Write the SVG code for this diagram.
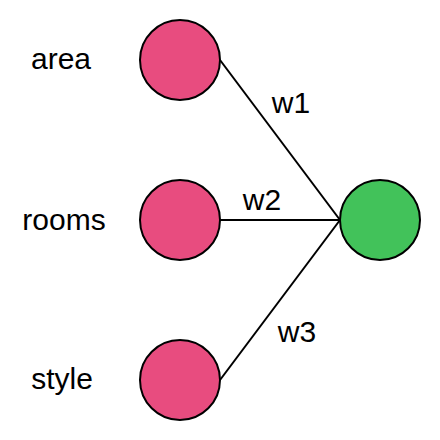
<svg xmlns="http://www.w3.org/2000/svg" width="440" height="440" viewBox="0 0 440 440">
<style>
.in{fill:#e84c7f;stroke:#000;stroke-width:2}
.out{fill:#42c25a;stroke:#000;stroke-width:2}
.lbl{font-family:"Liberation Sans",Arial,sans-serif;font-size:30px;fill:#000}
.c line{stroke:#000;stroke-width:2}
</style>
<rect width="440" height="440" fill="#fff"/>
<g class="c" id="connectors">
<line x1="220" y1="60" x2="340" y2="220"/>
<line x1="220" y1="220" x2="340" y2="220"/>
<line x1="220" y1="380" x2="340" y2="220"/>
<text class="lbl" x="291" y="113" text-anchor="middle">w1</text>
<text class="lbl" x="262" y="210" text-anchor="middle">w2</text>
<text class="lbl" x="297" y="342" text-anchor="middle">w3</text>
</g>
<g id="area"><circle class="in" cx="180" cy="60" r="40"/><text class="lbl" x="61" y="69" text-anchor="middle">area</text></g>
<g id="rooms"><circle class="in" cx="180" cy="220" r="40"/><text class="lbl" x="64" y="230" text-anchor="middle">rooms</text></g>
<g id="style"><circle class="in" cx="180" cy="380" r="40"/><text class="lbl" x="62" y="389" text-anchor="middle">style</text></g>
<g id="output"><circle class="out" cx="380" cy="220" r="40"/></g>
</svg>
